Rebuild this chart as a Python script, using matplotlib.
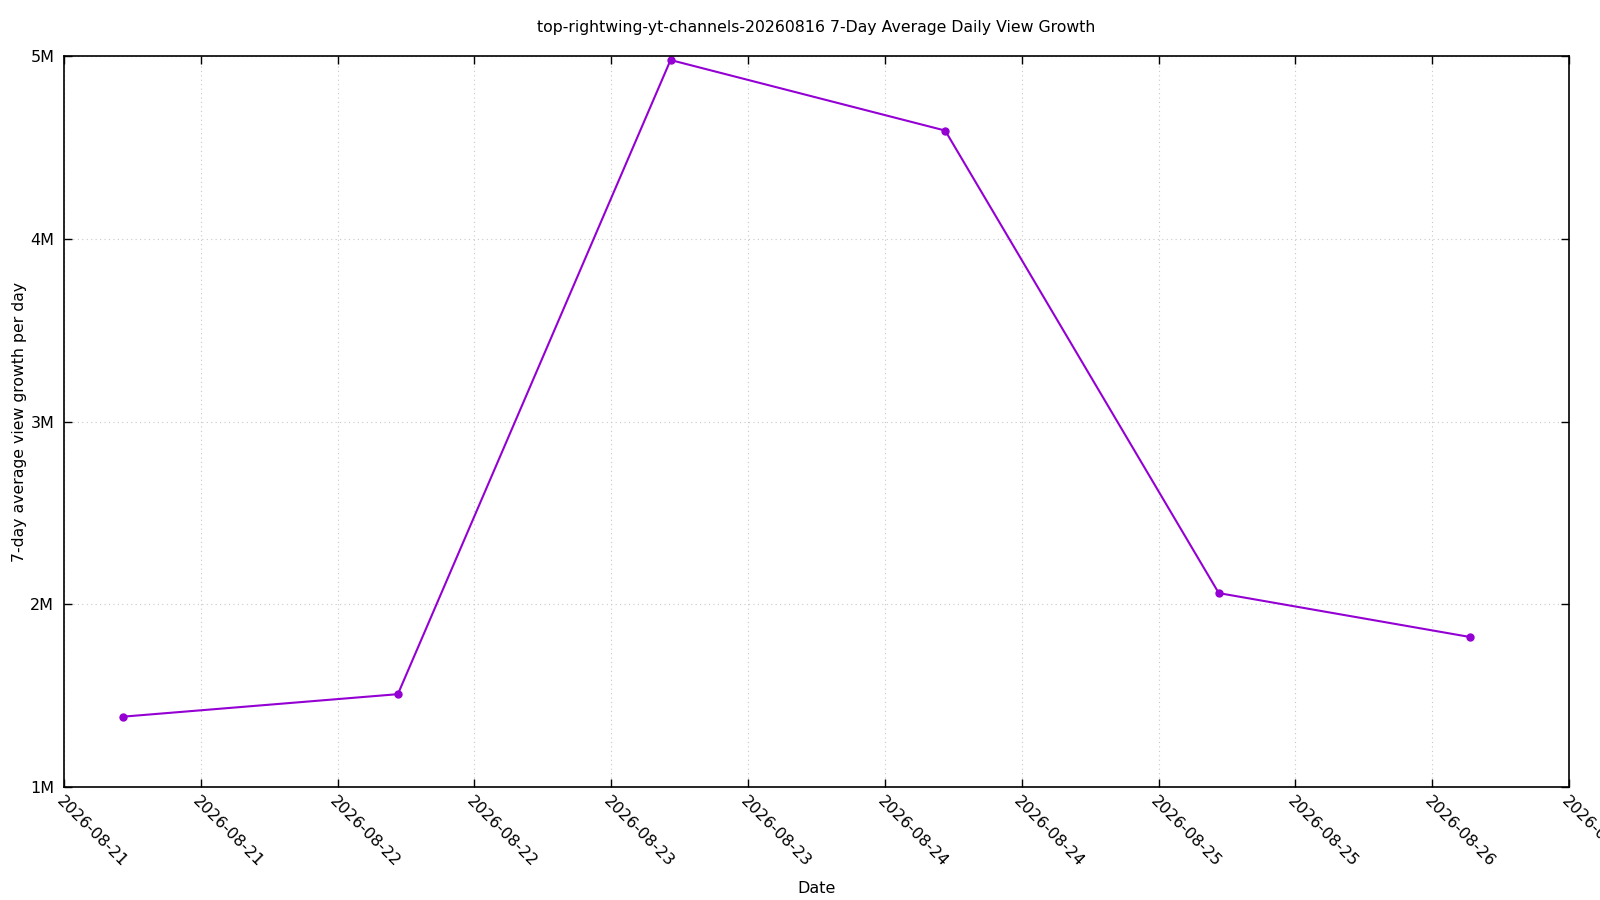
import matplotlib
matplotlib.use("Agg")
import matplotlib.pyplot as plt
from datetime import datetime, timedelta

# Data
dates = [
    datetime(2026, 8, 21, 5, 12),
    datetime(2026, 8, 22, 5, 17),
    datetime(2026, 8, 23, 5, 12),
    datetime(2026, 8, 24, 5, 17),
    datetime(2026, 8, 25, 5, 17),
    datetime(2026, 8, 26, 3, 18),
]
growth = [1.385e6, 1.508e6, 4.978e6, 4.592e6, 2.061e6, 1.821e6]

x_start = datetime(2026, 8, 21, 0, 0)
x_end = datetime(2026, 8, 26, 12, 0)
tick_times = [x_start + timedelta(hours=12 * i) for i in range(12)]
y_ticks = [1e6, 2e6, 3e6, 4e6, 5e6]
y_labels = ["1M", "2M", "3M", "4M", "5M"]

plt.rcParams["font.family"] = "DejaVu Sans"
plt.rcParams["font.size"] = 11

fig = plt.figure(figsize=(16, 9), dpi=100)
ax = fig.add_axes([64 / 1600, 1 - 787 / 900, (1569 - 64) / 1600, (787 - 56) / 900])

ax.plot(dates, growth, color="#9400d3", linewidth=1.5, marker="o", markersize=5)

ax.set_xlim(x_start, x_end)
ax.set_ylim(1e6, 5e6)
ax.set_xticks(tick_times)
# last label runs off the right edge, as in the original
ax.set_xticklabels([t.strftime("%Y-%m-%d") for t in tick_times],
                   rotation=-45, ha="left", va="top", rotation_mode="anchor")
ax.set_yticks(y_ticks)
ax.set_yticklabels(y_labels)

ax.tick_params(direction="in", top=True, right=True, length=6, width=1, labelsize=11.5)
ax.tick_params(axis="x", pad=5)
ax.tick_params(axis="y", pad=7)
for s in ax.spines.values():
    s.set_linewidth(1.2)

ax.grid(True, color="#c8c8c8", linestyle=(0, (1, 3)), linewidth=0.8)

ax.set_title("top-rightwing-yt-channels-20260816 7-Day Average Daily View Growth",
             fontsize=11.3, pad=17)
ax.set_xlabel("Date", fontsize=11.5, labelpad=8)
ax.set_ylabel("7-day average view growth per day", fontsize=11.3, labelpad=2)

fig.savefig("out.png", dpi=100)
